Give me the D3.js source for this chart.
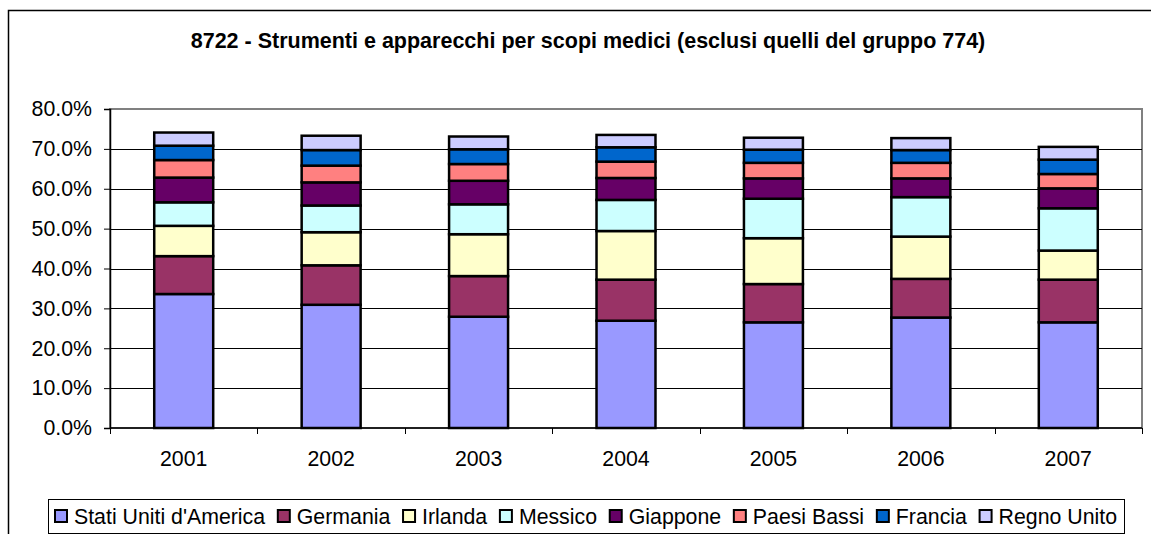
<!DOCTYPE html>
<html>
<head>
<meta charset="utf-8">
<title>8722 - Strumenti e apparecchi per scopi medici</title>
<script src="https://cdn.jsdelivr.net/npm/d3@7"></script>
<style>
  body { margin: 0; background: #fff; }
  svg text { font-family: "Liberation Sans", Arial, sans-serif; fill: #000; }
</style>
</head>
<body>
<div id="chart"></div>
<script>
// anni e paesi
var years = ["2001", "2002", "2003", "2004", "2005", "2006", "2007"];
var countries = ["Stati Uniti d'America", "Germania", "Irlanda", "Messico",
                 "Giappone", "Paesi Bassi", "Francia", "Regno Unito"];
var colors = ["#9999FF", "#993366", "#FFFFCC", "#CCFFFF",
              "#660066", "#FF8080", "#0066CC", "#CCCCFF"];

// quote (%) per paese, un valore per anno
var usa      = [33.6, 30.9, 27.9, 26.9, 26.5, 27.7, 26.5];
var germania = [ 9.5,  9.9, 10.2, 10.3,  9.6,  9.7, 10.7];
var irlanda  = [ 7.6,  8.3, 10.5, 12.2, 11.5, 10.6,  7.3];
var messico  = [ 5.9,  6.7,  7.5,  7.8,  9.9,  9.9, 10.6];
var giappone = [ 6.2,  5.8,  5.9,  5.5,  5.1,  4.7,  5.0];
var paesiB   = [ 4.4,  4.2,  4.2,  4.1,  3.9,  3.9,  3.6];
var francia  = [ 3.6,  3.9,  3.7,  3.6,  3.3,  3.2,  3.6];
var regnoU   = [ 3.3,  3.6,  3.2,  3.1,  3.0,  3.0,  3.2];
var series = [usa, germania, irlanda, messico, giappone, paesiB, francia, regnoU];

var yTicks = [0, 10, 20, 30, 40, 50, 60, 70, 80];

var W = 1151, H = 534;
var plot = { left: 110, right: 1142, top: 109, bottom: 428 };
var fs = "21.3px";

var svg = d3.select("#chart").append("svg")
    .attr("width", W)
    .attr("height", H);

// cornice esterna del grafico
svg.append("rect")
    .attr("x", 8.5).attr("y", 10.5)
    .attr("width", W + 20).attr("height", H + 20)
    .attr("fill", "#fff")
    .attr("stroke", "#000")
    .attr("stroke-width", 1.5);

svg.append("text")
    .attr("x", 588).attr("y", 48)
    .attr("text-anchor", "middle")
    .attr("font-size", "21.5px")
    .attr("font-weight", "bold")
    .text("8722 - Strumenti e apparecchi per scopi medici (esclusi quelli del gruppo 774)");

var x = d3.scaleBand()
    .domain(years)
    .range([plot.left, plot.right])
    .paddingInner(0.6)
    .paddingOuter(0.3);

var y = d3.scaleLinear()
    .domain([0, 80])
    .range([plot.bottom, plot.top]);

// bordo area del tracciato
svg.append("rect")
    .attr("x", plot.left).attr("y", plot.top)
    .attr("width", plot.right - plot.left).attr("height", plot.bottom - plot.top)
    .attr("fill", "none")
    .attr("stroke", "#808080")
    .attr("stroke-width", 2);

// griglia
svg.selectAll("line.grid")
    .data(yTicks.slice(1, -1))
    .enter().append("line")
    .attr("class", "grid")
    .attr("x1", plot.left).attr("x2", plot.right)
    .attr("y1", function(d) { return Math.round(y(d)) + 0.5; })
    .attr("y2", function(d) { return Math.round(y(d)) + 0.5; })
    .attr("stroke", "#000")
    .attr("stroke-width", 1);

// pile
var stack = d3.stack()
    .keys(d3.range(series.length))
    .value(function(d, k) { return series[k][d]; });
var layers = stack(d3.range(years.length));

svg.selectAll("g.layer")
    .data(layers)
    .enter().append("g")
    .attr("class", "layer")
    .attr("fill", function(d, i) { return colors[i]; })
    .selectAll("rect")
    .data(function(d) { return d; })
    .enter().append("rect")
    .attr("x", function(d, i) { return x(years[i]); })
    .attr("y", function(d) { return y(d[1]); })
    .attr("width", x.bandwidth())
    .attr("height", function(d) { return y(d[0]) - y(d[1]); })
    .attr("stroke", "#000")
    .attr("stroke-width", 2.5);

// asse Y
var yAxis = svg.append("g")
    .attr("transform", "translate(" + plot.left + ",0)")
    .call(d3.axisLeft(y)
        .tickValues(yTicks)
        .tickSize(6)
        .tickPadding(12)
        .tickFormat(function(d) { return d3.format(".1f")(d) + "%"; }));
yAxis.select(".domain").attr("stroke", "#000").attr("stroke-width", 1.5);
yAxis.selectAll(".tick line").attr("stroke", "#000");
yAxis.selectAll(".tick text")
    .attr("font-size", fs)
    .attr("font-family", "Liberation Sans, Arial, sans-serif");

// asse X
svg.append("line")
    .attr("x1", plot.left).attr("x2", plot.right)
    .attr("y1", plot.bottom).attr("y2", plot.bottom)
    .attr("stroke", "#000").attr("stroke-width", 1.5);

var step = x.step();
svg.selectAll("line.xtick")
    .data(d3.range(years.length + 1))
    .enter().append("line")
    .attr("class", "xtick")
    .attr("x1", function(i) { return Math.round(plot.left + i * step) + 0.5; })
    .attr("x2", function(i) { return Math.round(plot.left + i * step) + 0.5; })
    .attr("y1", plot.bottom).attr("y2", plot.bottom + 6)
    .attr("stroke", "#000");

svg.selectAll("text.xlab")
    .data(years)
    .enter().append("text")
    .attr("class", "xlab")
    .attr("x", function(d) { return x(d) + x.bandwidth() / 2; })
    .attr("y", 466)
    .attr("text-anchor", "middle")
    .attr("font-size", fs)
    .text(function(d) { return d; });

// legenda
var legend = { left: 48, right: 1124, top: 499, bottom: 533 };
svg.append("rect")
    .attr("x", legend.left + 0.5).attr("y", legend.top + 0.5)
    .attr("width", legend.right - legend.left).attr("height", legend.bottom - legend.top)
    .attr("fill", "#fff")
    .attr("stroke", "#000")
    .attr("stroke-width", 1);

var lg = svg.append("g");
var items = lg.selectAll("g.item")
    .data(countries)
    .enter().append("g")
    .attr("class", "item");

items.append("rect")
    .attr("width", 12).attr("height", 12)
    .attr("y", 510)
    .attr("fill", function(d, i) { return colors[i]; })
    .attr("stroke", "#000")
    .attr("stroke-width", 2);

items.append("text")
    .attr("y", 524)
    .attr("font-size", fs)
    .text(function(d) { return d; });

// disposizione orizzontale: voci distribuite tra i margini interni della legenda
var widths = [];
items.each(function() {
    widths.push(d3.select(this).select("text").node().getComputedTextLength());
});
var innerL = legend.left + 7, innerR = legend.right - 7;
var gap = (innerR - innerL - d3.sum(widths) - countries.length * 19) / (countries.length - 1);
var cursor = innerL;
items.each(function(d, i) {
    var g = d3.select(this);
    g.select("rect").attr("x", cursor);
    g.select("text").attr("x", cursor + 19);
    cursor += 19 + widths[i] + gap;
});
</script>
</body>
</html>
